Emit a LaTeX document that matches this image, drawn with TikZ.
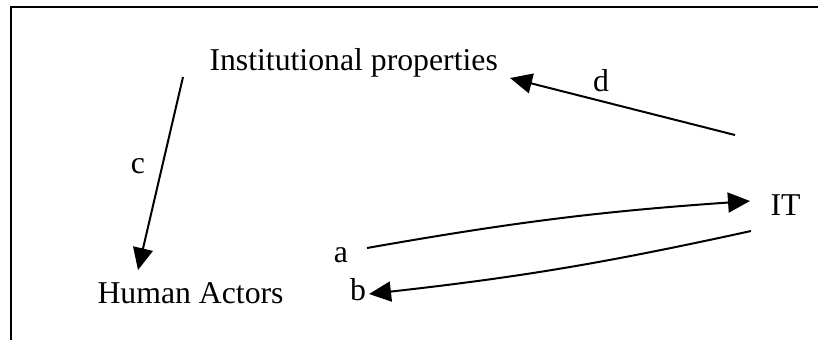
\documentclass[tikz,border=0pt]{standalone}
\usepackage{fontspec}
\setmainfont{Liberation Serif}
\usetikzlibrary{arrows.meta}
\begin{document}
\begin{tikzpicture}[
  x=0.4pt,y=-0.4pt,
  lbl/.style={inner sep=0pt,anchor=base,font=\fontsize{12.7}{15}\selectfont},
  arr/.style={-{Triangle[length=8.8pt,width=8pt]},line width=0.8pt},
  frame/.style={line width=0.8pt}
]
  \useasboundingbox (0,0) rectangle (818,340);
  \draw[frame] (818,7) -- (11,7) -- (11,340);
  \node[lbl,anchor=base west] (inst) at (209,70.5) {Institutional properties};
  \node[lbl,anchor=base west] (human) at (97,303) {Human Actors};
  \node[lbl,anchor=base west] (it) at (770,215) {IT};
  \node[lbl] (la) at (341,262) {a};
  \node[lbl] (lb) at (358,300) {b};
  \node[lbl] (lc) at (138,173) {c};
  \node[lbl] (ld) at (601,91) {d};
  % arrow ends
  \coordinate (ctop) at (183,77);
  \coordinate (ctip) at (138,270);
  \coordinate (dfrom) at (735,135);
  \coordinate (dtip) at (510,78);
  \coordinate (afrom) at (367,248);
  \coordinate (atip) at (750,201);
  \coordinate (bfrom) at (751,231);
  \coordinate (btip) at (369,294);
  \draw[arr] (ctop)--(ctip);
  \draw[arr] (dfrom)--(dtip);
  \draw[arr] (afrom) to[bend left=3] (atip);
  \draw[arr] (bfrom) to[bend left=3] (btip);
\end{tikzpicture}
\end{document}
